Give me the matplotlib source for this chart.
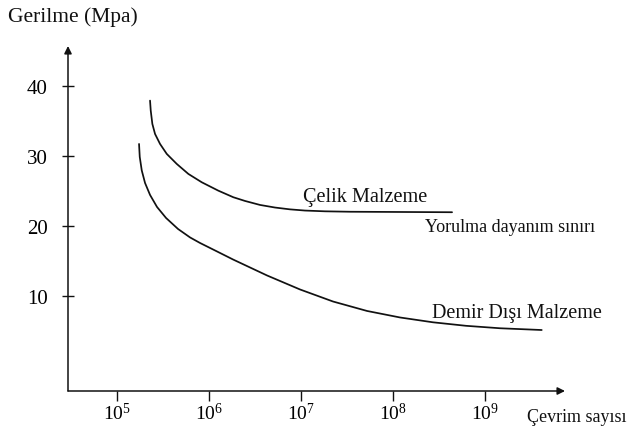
import matplotlib
matplotlib.use("Agg")
import matplotlib.pyplot as plt

plt.rcParams['font.family'] = ['Liberation Serif', 'DejaVu Serif']
plt.rcParams['mathtext.fontset'] = 'custom'
plt.rcParams['mathtext.rm'] = 'Liberation Serif'
plt.rcParams['mathtext.it'] = 'Liberation Serif:italic'

# --- data ---
steel_cycles = [2.284e5, 2.324e5, 2.42e5, 2.588e5, 2.934e5, 3.47e5, 4.456e5, 5.96e5, 8.33e5,
                1.262e6, 1.837e6, 2.462e6, 3.585e6, 5.22e6, 7.59e6, 1.105e7, 1.824e7,
                3.41e7, 4.38e8]
steel_stress = [37.9, 36.47, 34.57, 33.14, 31.71, 30.29, 28.86, 27.43, 26.24,
                25.04, 24.1, 23.57, 23.0, 22.63, 22.37, 22.2, 22.09,
                22.03, 21.96]

nonferrous_cycles = [1.734e5, 1.765e5, 1.856e5, 2.015e5, 2.284e5, 2.72e5, 3.41e5, 4.60e5, 6.22e5,
                     7.98e5, 1.162e6, 1.824e6, 2.79e6, 4.27e6, 9.75e6, 2.227e7, 5.22e7,
                     1.192e8, 2.72e8, 6.22e8, 1.455e9, 4.13e9]
nonferrous_stress = [31.71, 29.86, 27.93, 26.14, 24.43, 22.71, 21.14, 19.57, 18.36,
                     17.57, 16.5, 15.21, 14.07, 12.93, 10.93, 9.21, 7.86,
                     6.93, 6.24, 5.74, 5.39, 5.14]

x_ticks = [1e5, 1e6, 1e7, 1e8, 1e9]
x_tick_labels = [r'$10^5$', r'$10^6$', r'$10^7$', r'$10^8$', r'$10^9$']
y_ticks = [10, 20, 30, 40]
y_tick_labels = ['10', '20', '30', '40']

W, H = 631, 435
fig = plt.figure(figsize=(W / 100, H / 100), dpi=100)

left, right, bottom, top = 68, 565, 392, 47
ax = fig.add_axes([left / W, 1 - bottom / H, (right - left) / W, (bottom - top) / H])
ax.set_xscale('log')
ax.set_xlim(2.93e4, 7.4e9)
ax.set_ylim(-3.57, 45.7)

line_kw = dict(color='#111111', lw=1.25, solid_joinstyle='round', solid_capstyle='round')
ax.plot(steel_cycles, steel_stress, **line_kw)
ax.plot(nonferrous_cycles, nonferrous_stress, **line_kw)

for s in ax.spines.values():
    s.set_visible(False)

arrow = dict(arrowstyle='-|>', color='#111111', lw=1.1, mutation_scale=11, shrinkA=0, shrinkB=0)
ax.annotate('', xy=(1, 0), xytext=(0, 0), xycoords='axes fraction', arrowprops=arrow)
ax.annotate('', xy=(0, 1), xytext=(0, 0), xycoords='axes fraction', arrowprops=arrow)

ax.set_xticks(x_ticks)
ax.set_xticklabels(x_tick_labels)
ax.xaxis.set_minor_locator(matplotlib.ticker.NullLocator())
ax.set_yticks(y_ticks)
ax.set_yticklabels(y_tick_labels)
ax.tick_params(axis='x', direction='out', length=7, width=1, color='#111111',
               labelsize=14, pad=1)
ax.tick_params(axis='y', direction='inout', length=9, width=1, color='#111111',
               labelsize=15, pad=10)

def ftext(x, y, s, **kw):
    fig.text(x / W, 1 - y / H, s, color='#111111', **kw)

ftext(8, 22, 'Gerilme (Mpa)', fontsize=15.5, ha='left', va='baseline')
ftext(527, 422, 'Çevrim sayısı', fontsize=13, ha='left', va='baseline')
ftext(303, 202, 'Çelik Malzeme', fontsize=14.6, ha='left', va='baseline')
ftext(425, 232, 'Yorulma dayanım sınırı', fontsize=13, ha='left', va='baseline')
ftext(432, 318, 'Demir Dışı Malzeme', fontsize=14.5, ha='left', va='baseline')

fig.savefig('out.png', dpi=100, facecolor='white')
